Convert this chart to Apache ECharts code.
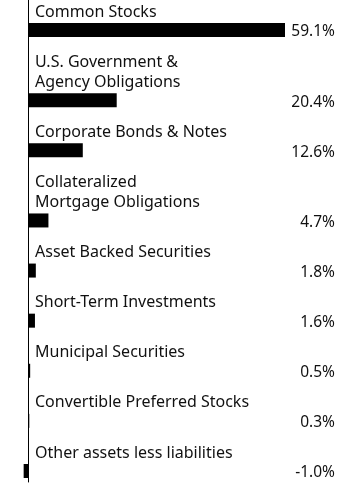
<!DOCTYPE html>
<html>
<head>
<meta charset="utf-8">
<script src="https://cdn.jsdelivr.net/npm/echarts@6/dist/echarts.min.js"></script>
<style>
  html, body { margin: 0; padding: 0; background: #fff; }
  #chart { width: 360px; height: 486px; }
</style>
</head>
<body>
<div id="chart"></div>
<script>
const categories = [
    "Common Stocks",
    "U.S. Government &\nAgency Obligations",
    "Corporate Bonds & Notes",
    "Collateralized\nMortgage Obligations",
    "Asset Backed Securities",
    "Short-Term Investments",
    "Municipal Securities",
    "Convertible Preferred Stocks",
    "Other assets less liabilities",
]
const values = [59.1, 20.4, 12.6, 4.7, 1.8, 1.6, 0.5, 0.3, -1.0]

// each row takes its label lines plus room for the bar, so rows with
// two-line labels get more vertical space
let acc = 0
const rows = categories.map((name, i) => {
    acc += name.split("\n").length + 1.5
    return [values[i], acc - 0.75, i]
})

const catFont = "16px 'Noto Sans', sans-serif"
const valFont = "15.5px 'Noto Sans', sans-serif"
const chart = echarts.init(document.getElementById("chart"))
chart.setOption({
    animation: false,
    grid: { left: 23.65, right: 75, top: 0, bottom: 4 },
    xAxis: {
        type: "value",
        min: -1,
        max: 59.1,
        show: false,
    },
    yAxis: {
        type: "value",
        inverse: true,
        min: 0.25,
        max: 24.3,
        axisLine: { show: true, onZero: true, lineStyle: { color: "#000", width: 1 } },
        axisTick: { show: false },
        axisLabel: { show: false },
        splitLine: { show: false },
    },
    series: [
        {
            type: "custom",
            data: rows,
            renderItem: function (params, api) {
                const val = api.value(0)
                const pos = api.value(1)
                const idx = api.value(2)
                const p0 = api.coord([0, pos])
                const p1 = api.coord([val, pos])
                const h = 14
                return {
                    type: "group",
                    children: [
                        {
                            type: "rect",
                            shape: {
                                x: Math.min(p0[0], p1[0]),
                                y: p0[1] - h / 2,
                                width: Math.abs(p1[0] - p0[0]),
                                height: h,
                            },
                            style: { fill: "#000" },
                        },
                        {
                            type: "text",
                            x: p0[0] + 7,
                            y: p0[1] - h / 2 - 1,
                            style: {
                                text: categories[idx],
                                font: catFont,
                                fill: "#111",
                                lineHeight: 20,
                                align: "left",
                                verticalAlign: "bottom",
                            },
                        },
                        {
                            type: "text",
                            x: api.getWidth() - 25,
                            y: p0[1] + 2,
                            style: {
                                text: val.toFixed(1) + "%",
                                font: valFont,
                                fill: "#111",
                                align: "right",
                                verticalAlign: "middle",
                            },
                        },
                    ],
                }
            },
        },
    ],
})
</script>
</body>
</html>
